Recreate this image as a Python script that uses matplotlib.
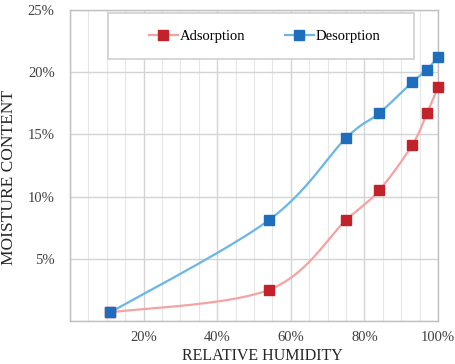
import numpy as np
import matplotlib.pyplot as plt
from matplotlib.lines import Line2D
from matplotlib.patches import Rectangle
from matplotlib.ticker import MultipleLocator, FuncFormatter

humidity = [11, 54, 75, 84, 93, 97, 100]
adsorption = [0.7, 2.5, 8.1, 10.5, 14.15, 16.7, 18.8]
desorption = [0.7, 8.1, 14.7, 16.7, 19.2, 20.2, 21.25]

ads_line, ads_mark = "#F4A3A3", "#C4222A"
des_line, des_mark = "#6AB6E6", "#1F6EBE"


def smooth_curve(x, y, n=40):
    # Bezier segments with Catmull-Rom style control points (spreadsheet "smoothed line")
    p = np.column_stack([x, y]).astype(float)
    out = []
    for i in range(len(p) - 1):
        p0 = p[i - 1] if i > 0 else p[i]
        p1, p2 = p[i], p[i + 1]
        p3 = p[i + 2] if i + 2 < len(p) else p[i + 1]
        c1 = p1 + (p2 - p0) / 6
        c2 = p2 - (p3 - p1) / 6
        t = np.linspace(0, 1, n)[:, None]
        seg = ((1 - t) ** 3) * p1 + 3 * ((1 - t) ** 2) * t * c1 + 3 * (1 - t) * t ** 2 * c2 + t ** 3 * p2
        out.append(seg if i == 0 else seg[1:])
    pts = np.vstack(out)
    return pts[:, 0], pts[:, 1]


plt.rcParams['font.family'] = ['Liberation Serif', 'DejaVu Serif']

fig = plt.figure(figsize=(4.55, 3.64), dpi=100)
ax = fig.add_axes([70 / 455, 43 / 364, 368 / 455, 311 / 364])

for ys, lc, mc in [(adsorption, ads_line, ads_mark), (desorption, des_line, des_mark)]:
    sx, sy = smooth_curve(humidity, ys)
    ax.plot(sx, sy, color=lc, lw=1.6, zorder=3, clip_on=False)
    ax.plot(humidity, ys, ls="none", marker="s", ms=7.5, color=mc, zorder=4, clip_on=False)

ax.set_xlim(0, 100)
ax.set_ylim(0, 25)
ax.xaxis.set_major_locator(MultipleLocator(20))
ax.xaxis.set_minor_locator(MultipleLocator(5))
ax.yaxis.set_major_locator(MultipleLocator(5))
ax.xaxis.set_major_formatter(FuncFormatter(lambda v, _: f"{v:.0f}%" if v > 0 else ""))
ax.yaxis.set_major_formatter(FuncFormatter(lambda v, _: f"{v:.0f}%" if v > 0 else ""))

ax.grid(which="major", color="#D4D4D4", lw=1.0)
ax.grid(which="minor", axis="x", color="#E6E6E6", lw=0.8)
ax.set_axisbelow(True)
for s in ax.spines.values():
    s.set_color("#BFBFBF")
    s.set_linewidth(1.0)
ax.tick_params(which="both", length=0, labelsize=10.5, colors="#404040")
ax.tick_params(axis="x", pad=7)
ax.tick_params(axis="y", pad=11)

ax.set_xlabel("RELATIVE HUMIDITY", fontsize=11.5, color="#262626")
ax.set_ylabel("MOISTURE CONTENT", fontsize=12.5, color="#262626")
ax.xaxis.set_label_coords(0.522, -0.088)
ax.yaxis.set_label_coords(-0.145, 0.463)

# legend box drawn separately so its padding can be wider than tall
ax.add_patch(Rectangle((0.103, 0.842), 0.832, 0.148, transform=ax.transAxes,
                       facecolor="white", edgecolor="#D0D0D0", lw=1.2, zorder=5))
handles = [
    Line2D([], [], color=ads_line, lw=1.6, marker="s", ms=7.5, mfc=ads_mark, mec=ads_mark),
    Line2D([], [], color=des_line, lw=1.6, marker="s", ms=7.5, mfc=des_mark, mec=des_mark),
]
leg = ax.legend(handles, ["Adsorption", "Desorption"], ncol=2, loc="center",
                bbox_to_anchor=(0.103 + 0.832 / 2 + 0.01, 0.842 + 0.148 / 2),
                fontsize=10.5, frameon=False, handlelength=2.0,
                handletextpad=0.15, columnspacing=2.7)
leg.set_zorder(6)

fig.savefig("out.png", dpi=100)
